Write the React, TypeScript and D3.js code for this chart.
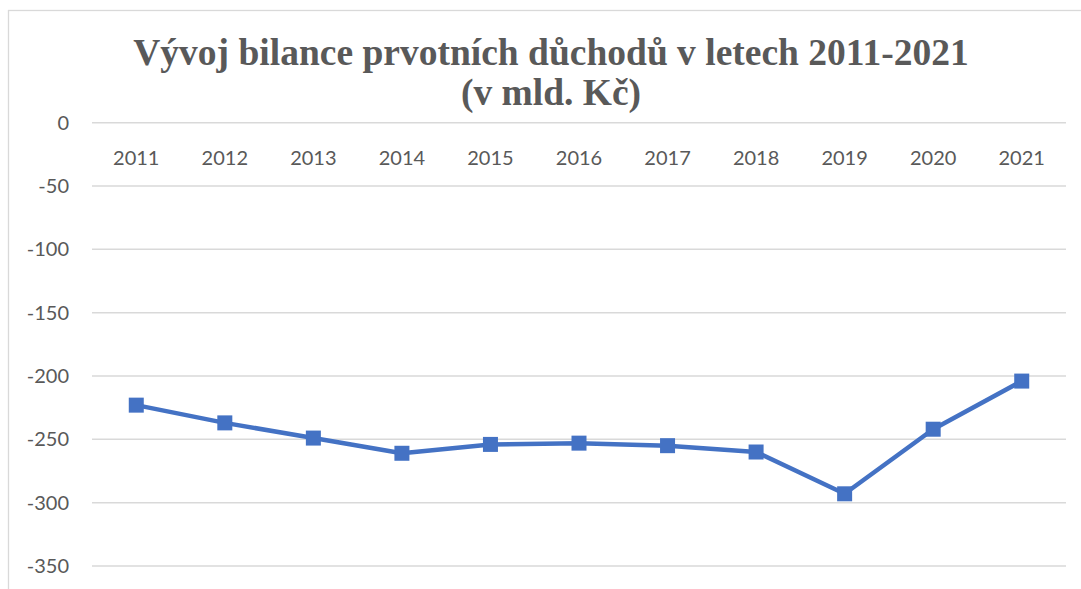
import { useEffect, useRef } from "react";
import * as d3 from "d3";

const years = ["2011", "2012", "2013", "2014", "2015", "2016", "2017", "2018", "2019", "2020", "2021"];
const balance = [-223, -237, -249, -261, -254, -253, -255, -260, -293, -242, -204];
const yTicks = [0, -50, -100, -150, -200, -250, -300, -350];
const titleLines = ["Vývoj bilance prvotních důchodů v letech 2011-2021", "(v mld. Kč)"];

export default function App() {
  const ref = useRef<SVGSVGElement>(null);

  useEffect(() => {
    if (!ref.current) return;
    const svg = d3.select(ref.current);
    svg.selectAll("*").remove();

    const W = 1081;
    const H = 589;
    const plot = { left: 92, right: 1066, top: 122.7, bottom: 566 };

    svg.append("rect").attr("width", W).attr("height", H).attr("fill", "#fff");

    // chart border
    svg
      .append("rect")
      .attr("x", 8.5)
      .attr("y", 10.5)
      .attr("width", 1100)
      .attr("height", 700)
      .attr("fill", "none")
      .attr("stroke", "#d9d9d9")
      .attr("stroke-width", 1.3);

    const x = d3.scaleBand().domain(years).range([plot.left, plot.right]);
    const y = d3.scaleLinear().domain([0, -350]).range([plot.top, plot.bottom]);

    // title
    const title = svg
      .append("text")
      .attr("text-anchor", "middle")
      .attr("fill", "#595959")
      .style("font-family", "'Liberation Serif', 'Times New Roman', serif")
      .style("font-weight", "bold")
      .style("font-size", "37.5px");
    titleLines.forEach((t, i) => {
      title
        .append("tspan")
        .attr("x", 551)
        .attr("y", 65 + i * 40)
        .text(t);
    });

    // grid
    svg
      .append("g")
      .selectAll("line")
      .data(yTicks)
      .enter()
      .append("line")
      .attr("x1", plot.left)
      .attr("x2", plot.right)
      .attr("y1", (d) => y(d))
      .attr("y2", (d) => y(d))
      .attr("stroke", "#d9d9d9")
      .attr("stroke-width", 1.5);

    // y labels
    svg
      .append("g")
      .selectAll("text")
      .data(yTicks)
      .enter()
      .append("text")
      .attr("x", 69)
      .attr("y", (d) => y(d))
      .attr("dy", "0.35em")
      .attr("text-anchor", "end")
      .attr("fill", "#595959")
      .style("font-family", "Lato, 'Open Sans', sans-serif")
      .style("font-size", "20px")
      .text((d) => String(d));

    // x labels
    svg
      .append("g")
      .selectAll("text")
      .data(years)
      .enter()
      .append("text")
      .attr("x", (d) => (x(d) ?? 0) + x.bandwidth() / 2)
      .attr("y", 158)
      .attr("dy", "0.35em")
      .attr("text-anchor", "middle")
      .attr("fill", "#595959")
      .style("font-family", "Lato, 'Open Sans', sans-serif")
      .style("font-size", "20px")
      .text((d) => d);

    const pts = years.map((yr, i) => ({ yr, v: balance[i] }));

    const line = d3
      .line<{ yr: string; v: number }>()
      .x((d) => (x(d.yr) ?? 0) + x.bandwidth() / 2)
      .y((d) => y(d.v));

    svg
      .append("path")
      .datum(pts)
      .attr("fill", "none")
      .attr("stroke", "#4472c4")
      .attr("stroke-width", 4.5)
      .attr("stroke-linejoin", "round")
      .attr("d", line);

    const size = 15;
    svg
      .append("g")
      .selectAll("rect")
      .data(pts)
      .enter()
      .append("rect")
      .attr("x", (d) => (x(d.yr) ?? 0) + x.bandwidth() / 2 - size / 2)
      .attr("y", (d) => y(d.v) - size / 2)
      .attr("width", size)
      .attr("height", size)
      .attr("fill", "#4472c4");
  }, []);

  return (
    <svg
      ref={ref}
      width={1081}
      height={589}
      style={{ position: "absolute", left: 0, top: 0, display: "block" }}
    ></svg>
  );
}
